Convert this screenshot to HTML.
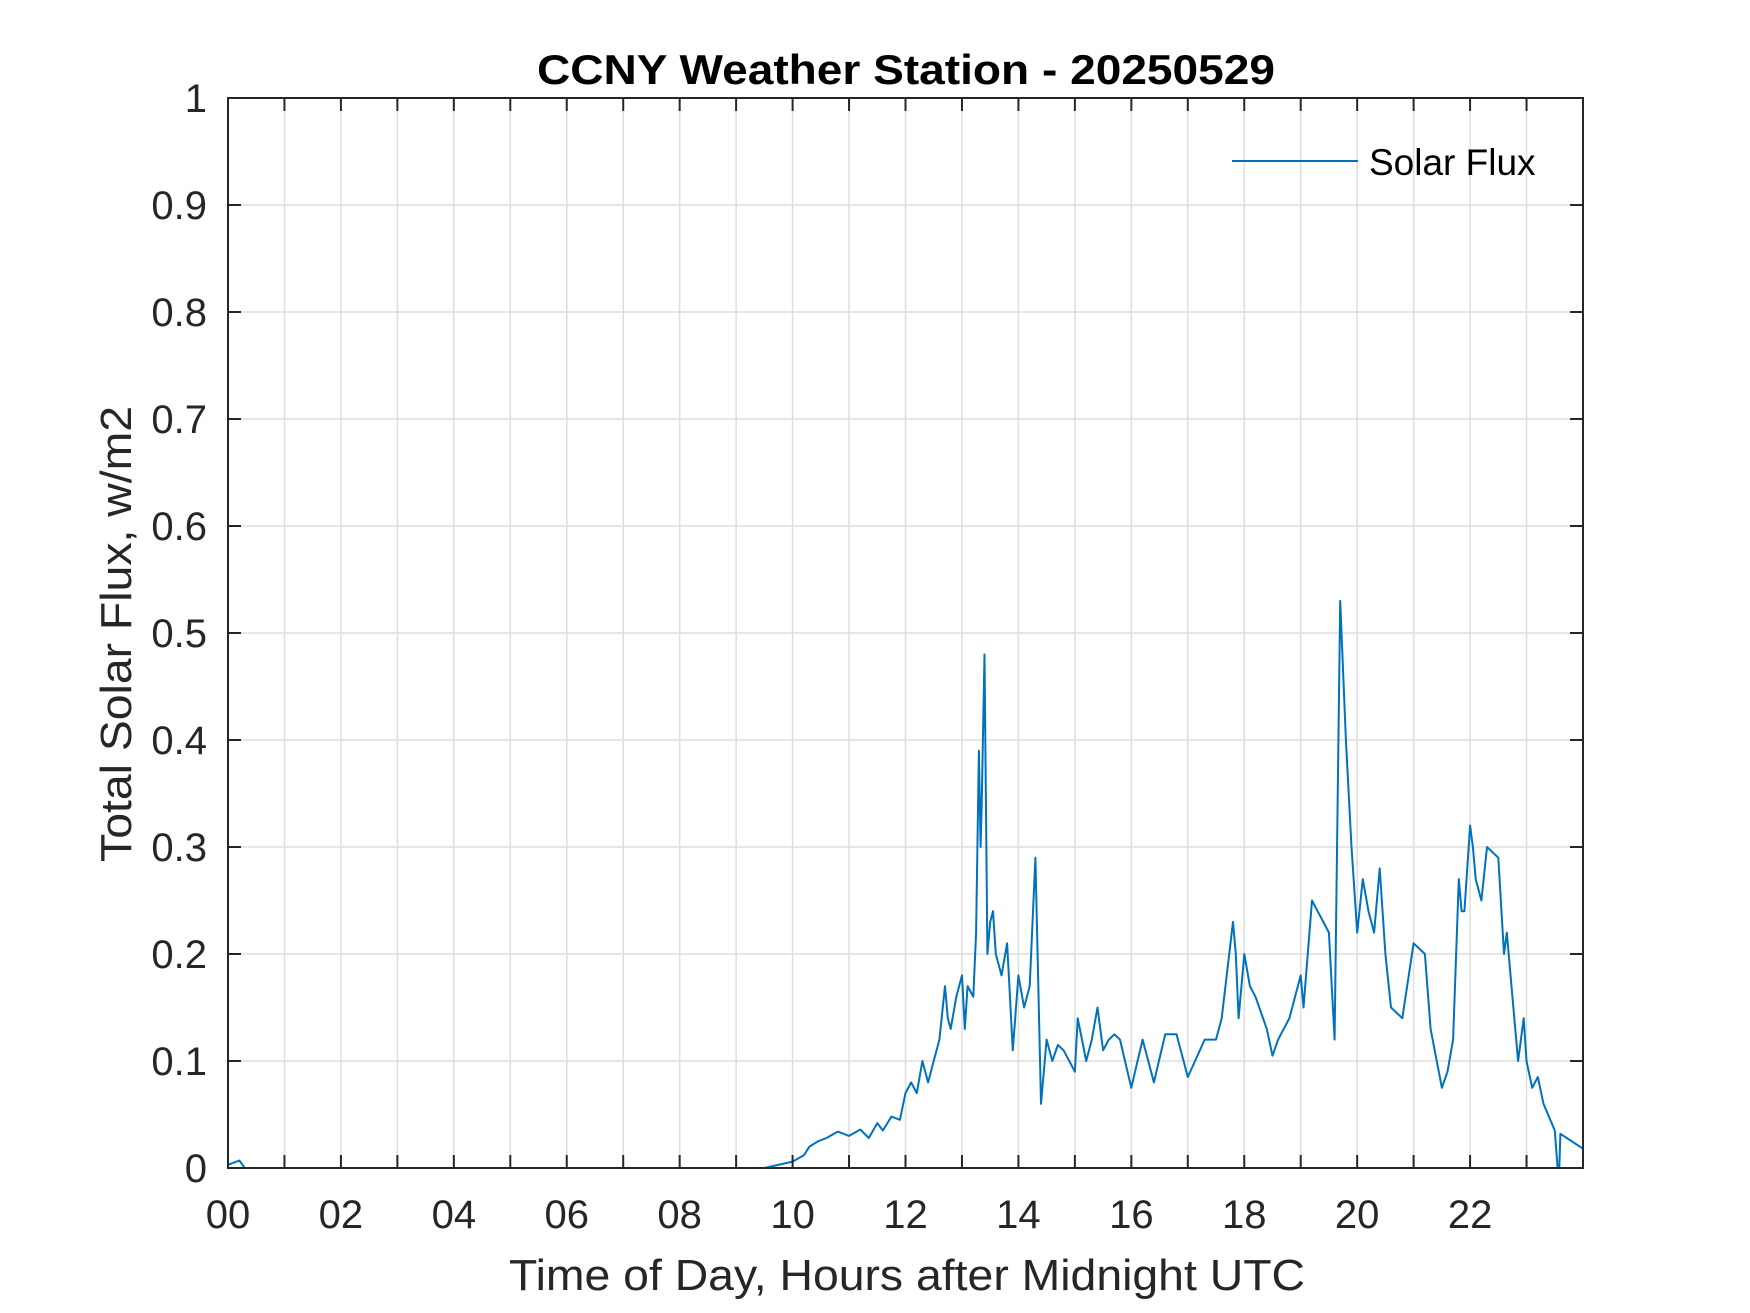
<!DOCTYPE html>
<html><head><meta charset="utf-8"><style>
html,body{margin:0;padding:0;background:#fff;}
svg{display:block;font-family:"Liberation Sans",Arial,sans-serif;}
</style></head><body>
<svg id="chart" width="1750" height="1313" viewBox="0 0 1750 1313" xmlns="http://www.w3.org/2000/svg">
<rect width="1750" height="1313" fill="#fff"/>
<g id="grid"></g>
<g id="series"></g>
<rect x="228" y="98" width="1355" height="1070" fill="none" stroke="#262626" stroke-width="2"/>
<g id="ticks"></g>
<text x="906" y="84" text-anchor="middle" font-size="42" font-weight="bold" textLength="738" lengthAdjust="spacingAndGlyphs">CCNY Weather Station - 20250529</text>
<text x="907" y="1290" text-anchor="middle" font-size="44" fill="#262626" textLength="796" lengthAdjust="spacingAndGlyphs">Time of Day, Hours after Midnight UTC</text>
<text transform="translate(131,634) rotate(-90)" text-anchor="middle" font-size="44" fill="#262626" textLength="456" lengthAdjust="spacingAndGlyphs">Total Solar Flux, w/m2</text>
<g>
<line x1="1232" y1="161" x2="1358" y2="161" stroke="#0072BD" stroke-width="2"/>
<text x="1369" y="175" font-size="37" fill="#000">Solar Flux</text>
</g>
</svg>
<script>
const hours = [0,0.2,0.3,9.5,10,10.2,10.3,10.45,10.6,10.8,11,11.2,11.35,11.5,11.6,11.75,11.9,12,12.1,12.2,12.3,12.4,12.5,12.6,12.7,12.75,12.8,12.9,13,13.05,13.1,13.2,13.25,13.3,13.33,13.35,13.4,13.45,13.5,13.55,13.6,13.7,13.8,13.9,14.0,14.1,14.2,14.3,14.4,14.5,14.6,14.7,14.8,15,15.05,15.2,15.3,15.4,15.5,15.6,15.7,15.8,16,16.2,16.4,16.6,16.8,17.0,17.3,17.5,17.6,17.8,17.85,17.9,18.0,18.1,18.2,18.4,18.5,18.6,18.8,19.0,19.05,19.2,19.3,19.4,19.5,19.6,19.7,19.8,19.9,20.0,20.1,20.2,20.3,20.4,20.5,20.6,20.8,21,21.2,21.3,21.5,21.6,21.7,21.8,21.85,21.9,22.0,22.05,22.1,22.2,22.3,22.5,22.6,22.65,22.7,22.85,22.95,23.0,23.1,23.2,23.3,23.5,23.55,23.58,23.6,24];
const flux = [0.003,0.007,0,0,0.006,0.012,0.02,0.025,0.028,0.034,0.03,0.036,0.028,0.042,0.035,0.048,0.045,0.07,0.08,0.07,0.1,0.08,0.1,0.12,0.17,0.14,0.13,0.16,0.18,0.13,0.17,0.16,0.22,0.39,0.3,0.34,0.48,0.2,0.23,0.24,0.2,0.18,0.21,0.11,0.18,0.15,0.17,0.29,0.06,0.12,0.1,0.115,0.11,0.09,0.14,0.1,0.12,0.15,0.11,0.12,0.125,0.12,0.075,0.12,0.08,0.125,0.125,0.085,0.12,0.12,0.14,0.23,0.2,0.14,0.2,0.17,0.16,0.13,0.105,0.12,0.14,0.18,0.15,0.25,0.24,0.23,0.22,0.12,0.53,0.4,0.3,0.22,0.27,0.24,0.22,0.28,0.2,0.15,0.14,0.21,0.2,0.13,0.075,0.09,0.12,0.27,0.24,0.24,0.32,0.3,0.27,0.25,0.3,0.29,0.2,0.22,0.19,0.1,0.14,0.1,0.075,0.085,0.06,0.035,0,0,0.032,0.018];
const xTicks = ["00","02","04","06","08","10","12","14","16","18","20","22"];
const yTicks = ["0","0.1","0.2","0.3","0.4","0.5","0.6","0.7","0.8","0.9","1"];
const X0=228,X1=1583,Y0=1168,Y1=98;
function xs(h){return X0+(X1-X0)*h/24;}
function ys(v){return Y0-(Y0-Y1)*v;}
const NS="http://www.w3.org/2000/svg";
const grid=document.getElementById('grid'),ticks=document.getElementById('ticks'),series=document.getElementById('series');
function mk(tag,attrs,parent){const e=document.createElementNS(NS,tag);for(const k in attrs)e.setAttribute(k,attrs[k]);parent.appendChild(e);return e;}
for(let h=1;h<24;h++){
  const x=xs(h);
  const g=mk('line',{x1:x,y1:Y1,x2:x,y2:Y0,stroke:'#dedede','stroke-width':1.5},grid);
  
  
  const t1=mk('line',{x1:x,y1:Y0,x2:x,y2:Y0-13,stroke:'#262626','stroke-width':2},ticks);
  
  
  const t2=mk('line',{x1:x,y1:Y1,x2:x,y2:Y1+13,stroke:'#262626','stroke-width':2},ticks);
  
  
}
xTicks.forEach((lab,i)=>{
  const t=mk('text',{x:xs(i*2),y:1228,'text-anchor':'middle','font-size':40,fill:'#262626'},ticks);
  t.textContent=lab;
  
  
});
yTicks.forEach((lab,i)=>{
  const v=parseFloat(lab),y=ys(v);
  if(i>0&&i<yTicks.length-1){
    const g=mk('line',{x1:X0,y1:y,x2:X1,y2:y,stroke:'#dedede','stroke-width':1.5},grid);
    
    
    const a=mk('line',{x1:X0,y1:y,x2:X0+13,y2:y,stroke:'#262626','stroke-width':2},ticks);
    
    
    const b=mk('line',{x1:X1,y1:y,x2:X1-13,y2:y,stroke:'#262626','stroke-width':2},ticks);
    
    
  }
  const t=mk('text',{x:207,y:y+14,'text-anchor':'end','font-size':40,fill:'#262626'},ticks);
  t.textContent=lab;
  
  
});
const pts=hours.map((h,i)=>xs(h).toFixed(1)+','+ys(flux[i]).toFixed(1)).join(' ');
const line=mk('polyline',{points:pts,fill:'none',stroke:'#0072BD','stroke-width':2,'stroke-linejoin':'round'},series);


</script>
</body></html>
